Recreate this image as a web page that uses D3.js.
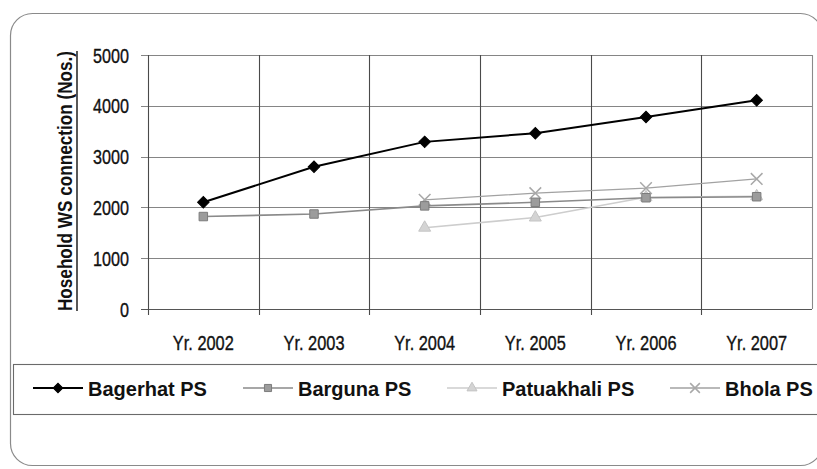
<!DOCTYPE html>
<html>
<head>
<meta charset="utf-8">
<script src="https://cdn.jsdelivr.net/npm/d3@7/dist/d3.min.js"></script>
<style>
  html, body { margin: 0; padding: 0; background: #ffffff; }
  svg { display: block; font-family: "Liberation Sans", Arial, sans-serif; }
</style>
</head>
<body>
<svg id="chart" width="817" height="469"></svg>
<script>
// Household water-supply connections per pourashava, 2002-2007
const years = ["Yr. 2002", "Yr. 2003", "Yr. 2004", "Yr. 2005", "Yr. 2006", "Yr. 2007"];
const bagerhat   = [2100, 2800, 3290, 3460, 3780, 4110];
const barguna    = [1820, 1870, 2030, 2100, 2190, 2210];
const patuakhali = [null, null, 1600, 1800, 2200, 2220];
const bhola      = [null, null, 2150, 2280, 2380, 2560];
const seriesNames = ["Bagerhat PS", "Barguna PS", "Patuakhali PS", "Bhola PS"];
const yTicks = [0, 1000, 2000, 3000, 4000, 5000];
const yTitle = "Hosehold WS connection (Nos.)";

const series = [
  { name: seriesNames[0], values: bagerhat,   stroke: "#000000", width: 2,   sym: "diamond" },
  { name: seriesNames[1], values: barguna,    stroke: "#8a8a8a", width: 1.6, sym: "square" },
  { name: seriesNames[2], values: patuakhali, stroke: "#cdcdcd", width: 1.6, sym: "triangle" },
  { name: seriesNames[3], values: bhola,      stroke: "#a2a2a2", width: 1.3, sym: "x" }
];

const svg = d3.select("#chart");
const plot = { left: 148, right: 812, top: 55, bottom: 309 };

const x = d3.scaleBand().domain(years).range([plot.left, plot.right]);
const y = d3.scaleLinear().domain([0, 5000]).range([plot.bottom, plot.top]);

// outer frame with rounded corners
svg.append("rect")
  .attr("x", 10.5).attr("y", 13.5)
  .attr("width", 812).attr("height", 452)
  .attr("rx", 22).attr("ry", 22)
  .attr("fill", "#ffffff")
  .attr("stroke", "#8a8a8a").attr("stroke-width", 1.2);

// horizontal gridlines with small ticks on the left
const hg = svg.append("g");
hg.selectAll("line").data(yTicks).join("line")
  .attr("x1", plot.left - 7).attr("x2", plot.right)
  .attr("y1", d => Math.round(y(d)) + 0.5).attr("y2", d => Math.round(y(d)) + 0.5)
  .attr("stroke", d => d === 0 ? "#555" : "#858585").attr("stroke-width", 1.2);

// vertical gridlines at category boundaries, extending below the axis as ticks
const bounds = years.map(d => x(d)).concat([plot.right]);
svg.append("g").selectAll("line").data(bounds).join("line")
  .attr("x1", d => Math.round(d) + 0.5).attr("x2", d => Math.round(d) + 0.5)
  .attr("y1", plot.top).attr("y2", (d, i) => i === bounds.length - 1 ? plot.bottom : plot.bottom + 6)
  .attr("stroke", (d, i) => i === bounds.length - 1 ? "#8a8a8a" : "#4a4a4a").attr("stroke-width", 1.1);

// y tick labels (narrow sans)
const yAxis = d3.axisLeft(y).tickValues(yTicks).tickSize(0).tickFormat(d3.format("d"));
const ya = svg.append("g").attr("transform", `translate(${plot.left},0)`).call(yAxis);
ya.select(".domain").remove();
ya.selectAll("text")
  .attr("x", -19 / 0.83).attr("dy", "0.36em")
  .attr("transform", "scale(0.83,1)")
  .attr("font-size", 19.5).attr("fill", "#111")
  .attr("stroke", "#111").attr("stroke-width", 0.35)
  .attr("font-family", "Liberation Sans, Arial, sans-serif");

// x tick labels centred in each band
const xAxis = d3.axisBottom(x).tickSize(0);
const xa = svg.append("g").attr("transform", `translate(0,${plot.bottom})`).call(xAxis);
xa.select(".domain").remove();
xa.selectAll("text")
  .attr("y", 41).attr("dy", 0)
  .attr("transform", "scale(0.84,1)")
  .attr("font-size", 19.5).attr("fill", "#111")
  .attr("stroke", "#111").attr("stroke-width", 0.35)
  .attr("font-family", "Liberation Sans, Arial, sans-serif");

// y axis title, bold and underlined
const titleG = svg.append("g").attr("transform", "translate(72,181) rotate(-90)");
const tt = titleG.append("text")
  .attr("text-anchor", "middle")
  .attr("font-size", 19.5).attr("font-weight", "bold").attr("fill", "#111")
  .attr("transform", "scale(0.88,1)")
  .text(yTitle);
const tw = tt.node().getComputedTextLength() * 0.88;
titleG.append("line")
  .attr("x1", -tw / 2).attr("x2", tw / 2)
  .attr("y1", 5).attr("y2", 5)
  .attr("stroke", "#111").attr("stroke-width", 1.4);

// marker shapes
function drawMarker(g, s, cx, cy, scale) {
  scale = scale || 1;
  if (s.sym === "diamond") {
    g.append("path").attr("d", d3.symbol(d3.symbolSquare, 66 * scale)())
      .attr("transform", `translate(${cx},${cy}) rotate(45)`)
      .attr("fill", "#000").attr("stroke", "#000").attr("stroke-width", 1);
  } else if (s.sym === "square") {
    g.append("path").attr("d", d3.symbol(d3.symbolSquare, 72 * scale)())
      .attr("transform", `translate(${cx},${cy})`)
      .attr("fill", "#9c9c9c").attr("stroke", "#7c7c7c").attr("stroke-width", 1);
  } else if (s.sym === "triangle") {
    g.append("path").attr("d", d3.symbol(d3.symbolTriangle, 62 * scale)())
      .attr("transform", `translate(${cx},${cy})`)
      .attr("fill", "#d4d4d4").attr("stroke", "#c4c4c4").attr("stroke-width", 1);
  } else {
    g.append("path").attr("d", d3.symbol(d3.symbolX, 90 * scale)())
      .attr("transform", `translate(${cx},${cy})`)
      .attr("fill", "none").attr("stroke", "#a8a8a8").attr("stroke-width", 1.5);
  }
}

// series lines and markers
const cx = d => x(d) + x.bandwidth() / 2;
const line = d3.line()
  .defined(d => d.v != null)
  .x(d => cx(d.year))
  .y(d => y(d.v));

series.slice().reverse().forEach(s => {
  const pts = years.map((yr, i) => ({ year: yr, v: s.values[i] }));
  const g = svg.append("g");
  g.append("path").datum(pts).attr("d", line)
    .attr("fill", "none").attr("stroke", s.stroke).attr("stroke-width", s.width);
  pts.filter(p => p.v != null).forEach(p => drawMarker(g, s, cx(p.year), y(p.v)));
});

// legend
svg.append("rect")
  .attr("x", 13.5).attr("y", 364.5).attr("width", 820).attr("height", 50)
  .attr("fill", "none").attr("stroke", "#6a6a6a").attr("stroke-width", 1.1);

const legendX = [33, 243, 447, 670];
series.forEach((s, i) => {
  const g = svg.append("g").attr("transform", `translate(${legendX[i]},388)`);
  g.append("line").attr("x1", 0).attr("x2", 50).attr("y1", 0).attr("y2", 0)
    .attr("stroke", s.stroke).attr("stroke-width", s.width);
  drawMarker(g, s, 25, 0, 0.7);
  g.append("text").attr("x", 55).attr("y", 7.5)
    .attr("font-size", 20).attr("font-weight", "bold").attr("fill", "#111")
    .text(s.name);
});
</script>
</body>
</html>
